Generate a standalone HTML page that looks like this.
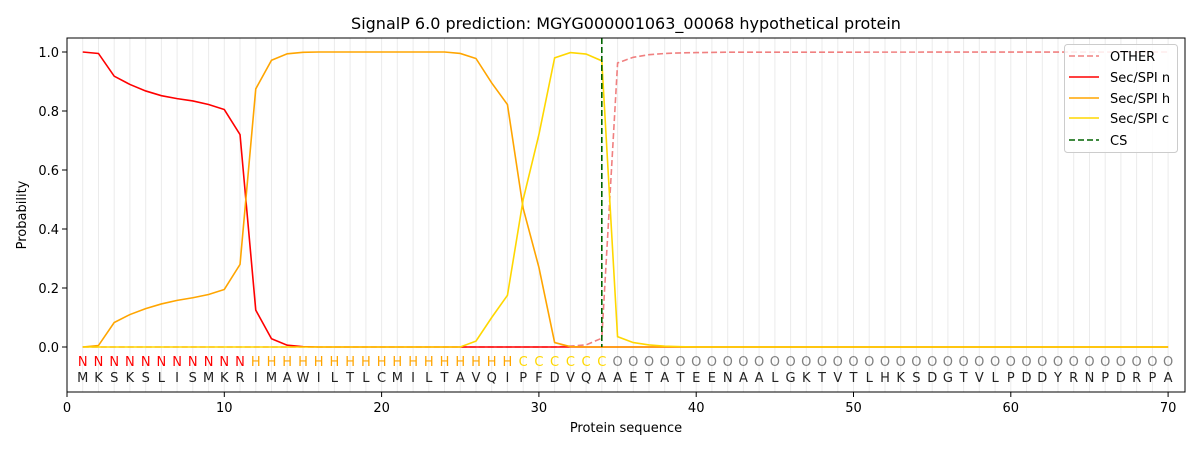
<!DOCTYPE html>
<html><head><meta charset="utf-8"><style>body{margin:0;background:#fff}svg{display:block;font-family:"DejaVu Sans","Liberation Sans",sans-serif}</style></head>
<body>
<svg width="1200" height="450" viewBox="0 0 1200 450" xmlns="http://www.w3.org/2000/svg">
<rect width="1200" height="450" fill="#fff"/>
<defs><clipPath id="c"><rect x="67" y="38" width="1118" height="354"/></clipPath></defs>
<g stroke="#000" stroke-opacity="0.08" stroke-width="1">
<path d="M82.7 38V392M98.5 38V392M114.2 38V392M129.9 38V392M145.7 38V392M161.4 38V392M177.1 38V392M192.8 38V392M208.6 38V392M224.3 38V392M240 38V392M255.8 38V392M271.5 38V392M287.2 38V392M303 38V392M318.7 38V392M334.4 38V392M350.1 38V392M365.9 38V392M381.6 38V392M397.3 38V392M413.1 38V392M428.8 38V392M444.5 38V392M460.3 38V392M476 38V392M491.7 38V392M507.4 38V392M523.2 38V392M538.9 38V392M554.6 38V392M570.4 38V392M586.1 38V392M601.8 38V392M617.6 38V392M633.3 38V392M649 38V392M664.7 38V392M680.5 38V392M696.2 38V392M711.9 38V392M727.7 38V392M743.4 38V392M759.1 38V392M774.9 38V392M790.6 38V392M806.3 38V392M822 38V392M837.8 38V392M853.5 38V392M869.2 38V392M885 38V392M900.7 38V392M916.4 38V392M932.2 38V392M947.9 38V392M963.6 38V392M979.3 38V392M995.1 38V392M1010.8 38V392M1026.5 38V392M1042.3 38V392M1058 38V392M1073.7 38V392M1089.5 38V392M1105.2 38V392M1120.9 38V392M1136.6 38V392M1152.4 38V392M1168.1 38V392"/>
</g>
<g clip-path="url(#c)" fill="none" stroke-width="1.6">
<polyline stroke="#f08080" stroke-dasharray="6,3" points="82.7,347 554.6,347 570.4,346.1 586.1,344.9 601.8,338.2 617.6,62.9 633.3,57.3 649,54.7 664.7,53.5 680.5,52.9 696.2,52.6 727.7,52.2 1168.1,52"/>
<g transform="translate(67,347) scale(15.73,-295)">
<polyline vector-effect="non-scaling-stroke" stroke="#ff0000" points="1,1 2,0.995 3,0.918 4,0.89 5,0.868 6,0.852 7,0.842 8,0.834 9,0.822 10,0.805 11,0.72 12,0.125 13,0.028 14,0.006 15,0.001 16,0 70,0"/>
<polyline vector-effect="non-scaling-stroke" stroke="#ffa500" points="1,0 2,0.005 3,0.083 4,0.11 5,0.13 6,0.146 7,0.158 8,0.167 9,0.178 10,0.195 11,0.28 12,0.875 13,0.972 14,0.994 15,0.999 16,1 24,1 25,0.995 26,0.978 27,0.895 28,0.822 29,0.47 30,0.27 31,0.015 32,0.001 33,0 70,0"/>
<polyline vector-effect="non-scaling-stroke" stroke="#ffd700" points="1,0 25,0 26,0.02 27,0.1 28,0.175 29,0.5 30,0.72 31,0.98 32,0.998 33,0.993 34,0.97 35,0.035 36,0.015 37,0.007 38,0.003 39,0.001 40,0 70,0"/>
</g>
<line x1="601.8" y1="38" x2="601.8" y2="347" stroke="#006400" stroke-dasharray="6,3"/>
</g>
<rect x="67" y="38" width="1118" height="354" fill="none" stroke="#000" stroke-width="1"/>
<g stroke="#000"><path d="M67 392v5M224.3 392v5M381.6 392v5M538.9 392v5M696.2 392v5M853.5 392v5M1010.8 392v5M1168.1 392v5M67 347h-5M67 288h-5M67 229h-5M67 170h-5M67 111h-5M67 52h-5"/></g>
<g font-size="13" fill="#000" text-anchor="middle">
<text x="67" y="412">0</text><text x="224.3" y="412">10</text><text x="381.6" y="412">20</text><text x="538.9" y="412">30</text><text x="696.2" y="412">40</text><text x="853.5" y="412">50</text><text x="1010.8" y="412">60</text><text x="1168.1" y="412">70</text>
</g>
<g font-size="13" fill="#000" text-anchor="end">
<text x="59" y="352">0.0</text><text x="59" y="293">0.2</text><text x="59" y="234">0.4</text><text x="59" y="175">0.6</text><text x="59" y="116">0.8</text><text x="59" y="57">1.0</text>
</g>
<text x="626" y="432" font-size="13" text-anchor="middle">Protein sequence</text>
<text transform="translate(26,215) rotate(-90)" font-size="13" text-anchor="middle">Probability</text>
<text x="626" y="29" font-size="16" text-anchor="middle">SignalP 6.0 prediction: MGYG000001063_00068 hypothetical protein</text>
<g font-size="13" text-anchor="middle">
<text y="366"><tspan fill="#ff0000" x="82.7 98.5 114.2 129.9 145.7 161.4 177.1 192.8 208.6 224.3 240">NNNNNNNNNNN</tspan><tspan fill="#ffa500" x="255.8 271.5 287.2 303 318.7 334.4 350.1 365.9 381.6 397.3 413.1 428.8 444.5 460.3 476 491.7 507.4">HHHHHHHHHHHHHHHHH</tspan><tspan fill="#ffd700" x="523.2 538.9 554.6 570.4 586.1 601.8">CCCCCC</tspan><tspan fill="#808080" x="617.6 633.3 649 664.7 680.5 696.2 711.9 727.7 743.4 759.1 774.9 790.6 806.3 822 837.8 853.5 869.2 885 900.7 916.4 932.2 947.9 963.6 979.3 995.1 1010.8 1026.5 1042.3 1058 1073.7 1089.5 1105.2 1120.9 1136.6 1152.4 1168.1">OOOOOOOOOOOOOOOOOOOOOOOOOOOOOOOOOOOO</tspan></text>
<text y="382" fill="#222" x="82.7 98.5 114.2 129.9 145.7 161.4 177.1 192.8 208.6 224.3 240 255.8 271.5 287.2 303 318.7 334.4 350.1 365.9 381.6 397.3 413.1 428.8 444.5 460.3 476 491.7 507.4 523.2 538.9 554.6 570.4 586.1 601.8 617.6 633.3 649 664.7 680.5 696.2 711.9 727.7 743.4 759.1 774.9 790.6 806.3 822 837.8 853.5 869.2 885 900.7 916.4 932.2 947.9 963.6 979.3 995.1 1010.8 1026.5 1042.3 1058 1073.7 1089.5 1105.2 1120.9 1136.6 1152.4 1168.1">MKSKSLISMKRIMAWILTLCMILTAVQIPFDVQAAETATEENAALGKTVTLHKSDGTVLPDDYRNPDRPA</text>
</g>
<rect x="1064.5" y="44.5" width="113" height="108" rx="3" fill="#fff" fill-opacity="0.85" stroke="#ccc"/>
<g stroke-width="1.6">
<line x1="1069" y1="56" x2="1099" y2="56" stroke="#f08080" stroke-dasharray="6,3"/>
<line x1="1069" y1="77" x2="1099" y2="77" stroke="#ff0000"/>
<line x1="1069" y1="98" x2="1099" y2="98" stroke="#ffa500"/>
<line x1="1069" y1="118" x2="1099" y2="118" stroke="#ffd700"/>
<line x1="1069" y1="140" x2="1099" y2="140" stroke="#006400" stroke-dasharray="6,3"/>
</g>
<g font-size="13" fill="#000">
<text x="1110" y="61">OTHER</text><text x="1110" y="82">Sec/SPI n</text><text x="1110" y="103">Sec/SPI h</text><text x="1110" y="123">Sec/SPI c</text><text x="1110" y="145">CS</text>
</g>
</svg>
</body></html>
